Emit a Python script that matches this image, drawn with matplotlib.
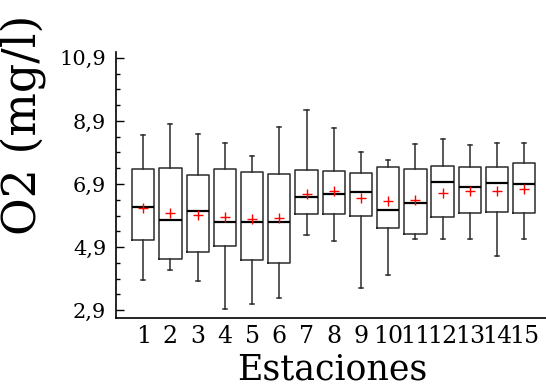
import matplotlib
matplotlib.use("Agg")
import matplotlib.pyplot as plt
from matplotlib.ticker import FixedLocator

# O2 por estacion: resumen de cada caja
estaciones = [str(i) for i in range(1, 16)]
whis_hi = [8.46, 8.79, 8.48, 8.21, 7.79, 8.72, 9.25, 8.69, 7.93, 7.67, 8.17, 8.34, 8.14, 8.21, 8.19]
q3 = [7.37, 7.40, 7.19, 7.37, 7.29, 7.21, 7.34, 7.32, 7.25, 7.45, 7.37, 7.46, 7.45, 7.45, 7.56]
mediana = [6.17, 5.75, 6.04, 5.71, 5.71, 5.71, 6.49, 6.60, 6.66, 6.07, 6.30, 6.96, 6.81, 6.94, 6.89]
media = [6.14, 5.99, 5.91, 5.84, 5.79, 5.81, 6.60, 6.69, 6.45, 6.36, 6.38, 6.62, 6.68, 6.68, 6.73]
q1 = [5.14, 4.53, 4.76, 4.95, 4.48, 4.41, 5.94, 5.94, 5.88, 5.50, 5.33, 5.86, 5.97, 6.00, 5.97]
whis_lo = [3.85, 4.19, 3.83, 2.93, 3.11, 3.29, 5.30, 5.08, 3.62, 4.01, 5.15, 5.15, 5.16, 4.61, 5.15]
yticks = [2.9, 4.9, 6.9, 8.9, 10.9]

stats = []
for i in range(len(estaciones)):
    stats.append({"label": estaciones[i], "whislo": whis_lo[i], "q1": q1[i], "med": mediana[i],
                  "q3": q3[i], "whishi": whis_hi[i], "mean": media[i], "fliers": []})

plt.rcParams['font.family'] = 'DejaVu Serif'
fig = plt.figure(figsize=(5.46, 3.87), dpi=100)
ax = fig.add_axes([0.2125, 0.178, 0.7875, 0.688])

pos = list(range(1, len(estaciones) + 1))
ax.bxp(stats, positions=pos, widths=0.82, showmeans=True, showfliers=False,
       boxprops=dict(color="#2b2b2b", linewidth=1.1),
       whiskerprops=dict(color="#2b2b2b", linewidth=1.1),
       capprops=dict(color="#2b2b2b", linewidth=1.1),
       medianprops=dict(color="black", linewidth=1.6),
       meanprops=dict(marker="+", markeredgecolor="red", markersize=7, markeredgewidth=1.0),
       capwidths=0.15)

ax.set_xlim(0.0, 15.8)
ax.set_ylim(2.65, 11.09)
ax.spines["top"].set_visible(False)
ax.spines["right"].set_visible(False)
ax.spines["left"].set_linewidth(1.2)
ax.spines["bottom"].set_linewidth(1.2)

ax.yaxis.set_major_locator(FixedLocator(yticks))
ax.yaxis.set_minor_locator(FixedLocator([y + k * 0.5 for y in yticks[:-1] for k in (1, 2, 3)]))
ax.set_yticklabels([f"{v:.1f}".replace(".", ",") for v in yticks], fontsize=15)
ax.tick_params(axis="y", which="major", direction="in", length=6, width=1, pad=7)
ax.tick_params(axis="y", which="minor", direction="in", length=3, width=1)
ax.set_xticks(pos)
ax.set_xticklabels(estaciones, fontsize=17)
ax.tick_params(axis="x", length=0, pad=5)

# titulos de ejes colocados a mano
fig.text(332 / 546, 0.0, "Estaciones", fontsize=25, ha="center", va="bottom")
fig.text(24 / 546, 1 - 125 / 387, "O2 (mg/l)", fontsize=33, rotation=90, ha="center", va="center")

fig.savefig("out.png", dpi=100)
